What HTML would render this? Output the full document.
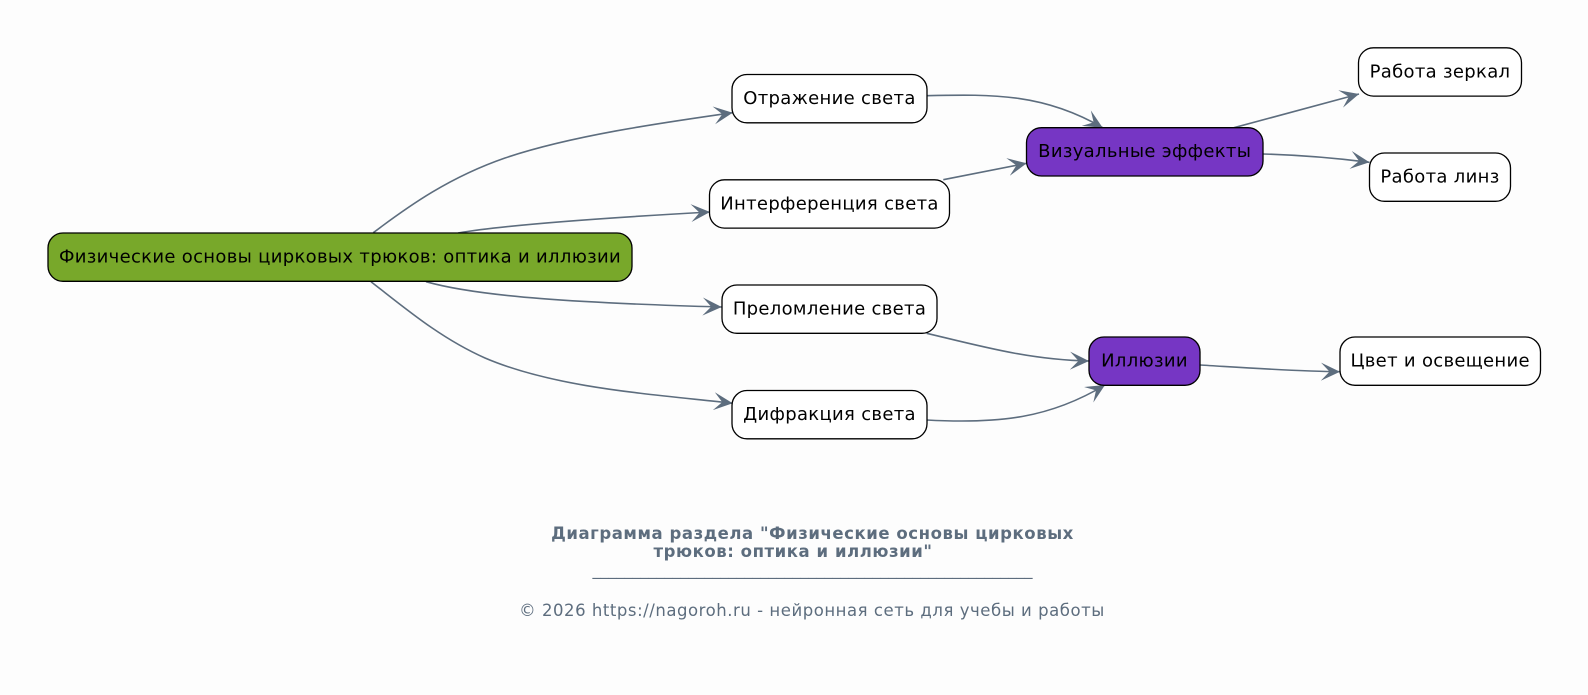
<!DOCTYPE html>
<html lang="ru">
<head>
<meta charset="utf-8">
<title>Диаграмма</title>
<style>
html,body{margin:0;padding:0;background:#fdfdfd;width:1588px;height:695px;overflow:hidden}
svg{display:block}
text{font-family:"DejaVu Sans","Liberation Sans",sans-serif}
.n{font-size:18px;letter-spacing:.31px;fill:#000;text-anchor:middle}
.e{fill:none;stroke:#5d6d7e;stroke-width:1.6;marker-end:url(#v)}
.b{stroke:#000;stroke-width:1.3}
.f{fill:#5d6d7e}
.t{font-size:16.5px;letter-spacing:.56px;font-weight:bold}
.c{font-size:16.5px;letter-spacing:.54px}
</style>
</head>
<body>
<svg width="1588" height="695" viewBox="0 0 1588 695" xmlns="http://www.w3.org/2000/svg">
<defs>
<marker id="v" markerUnits="userSpaceOnUse" markerWidth="22" markerHeight="22" viewBox="0 -11 22 22" refX="19" refY="0" orient="auto">
<polygon points="0,-9 19,0 0,9 8.5,0" fill="#5d6d7e"/>
</marker>
</defs>
<rect width="1588" height="695" fill="#fdfdfd"/>

<path class="e" d="M373.3,232.7 C410,205 450,177 505,158 C570,136 660,123 732.7,112.7"/>
<path class="e" d="M458,233 C510,224 620,217 710,212"/>
<path class="e" d="M426,281.7 C480,297 580,303 721.7,307"/>
<path class="e" d="M371,281.7 C405,308 440,338 485,358 C555,388 650,394 732.7,403.3"/>
<path class="e" d="M926.7,95.7 C995,94 1045,94 1102.7,127.7"/>
<path class="e" d="M943.3,179.7 L1026.7,163.3"/>
<path class="e" d="M926.7,333.3 C980,346 1030,360 1089,361"/>
<path class="e" d="M926.7,420 C1000,424 1050,418 1105,385"/>
<path class="e" d="M1234,127.7 L1359,94"/>
<path class="e" d="M1263,154 C1300,155 1335,158 1369.5,162.3"/>
<path class="e" d="M1200,365 C1250,368 1300,371.5 1340,371.7"/>

<rect class="b" x="48" y="233" width="584" height="48.3" rx="15" fill="#78a82a"/>
<text class="n" x="340" y="262.5">Физические основы цирковых трюков: оптика и иллюзии</text>

<rect class="b" x="732" y="74.5" width="195" height="48.3" rx="15" fill="#fff"/>
<text class="n" x="829.5" y="104">Отражение света</text>

<rect class="b" x="709.5" y="179.8" width="240" height="48.3" rx="15" fill="#fff"/>
<text class="n" x="829.5" y="209.3">Интерференция света</text>

<rect class="b" x="722" y="285" width="215" height="48.3" rx="15" fill="#fff"/>
<text class="n" x="829.5" y="314.5">Преломление света</text>

<rect class="b" x="732" y="390.5" width="195" height="48.3" rx="15" fill="#fff"/>
<text class="n" x="829.5" y="420">Дифракция света</text>

<rect class="b" x="1026.5" y="127.7" width="236.5" height="48.3" rx="15" fill="#7636c4"/>
<text class="n" x="1144.7" y="157.2">Визуальные эффекты</text>

<rect class="b" x="1089" y="337" width="111" height="48.3" rx="15" fill="#7636c4"/>
<text class="n" x="1144.5" y="366.5">Иллюзии</text>

<rect class="b" x="1358.5" y="47.8" width="163" height="48.3" rx="15" fill="#fff"/>
<text class="n" x="1440" y="77.3">Работа зеркал</text>

<rect class="b" x="1369.5" y="153" width="141" height="48.3" rx="15" fill="#fff"/>
<text class="n" x="1440" y="182.5">Работа линз</text>

<rect class="b" x="1340" y="337" width="200.5" height="48.3" rx="15" fill="#fff"/>
<text class="n" x="1440.2" y="366.5">Цвет и освещение</text>

<text class="f t" text-anchor="middle" x="812.5" y="539">Диаграмма раздела "Физические основы цирковых</text>
<text class="f t" text-anchor="middle" x="793" y="557">трюков: оптика и иллюзии"</text>
<text class="f" font-size="16" text-anchor="middle" x="812.5" y="575">_______________________________________________________</text>
<text class="f c" text-anchor="middle" x="812" y="616">© 2026 https://nagoroh.ru - нейронная сеть для учебы и работы</text>
</svg>
</body>
</html>
